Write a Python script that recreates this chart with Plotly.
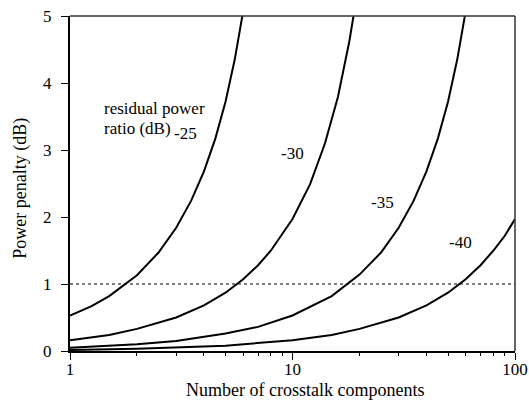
import math
import plotly.graph_objects as go

# Number of crosstalk components (x) and power penalty in dB (y)
n_m25 = [1, 1.25, 1.5, 1.75, 2, 2.5, 3, 3.5, 4, 4.5, 5, 5.5, 5.95]
pp_m25 = [0.53, 0.67, 0.82, 0.98, 1.13, 1.47, 1.84, 2.24, 2.68, 3.17, 3.72, 4.35, 5.0]

n_m30 = [1, 1.5, 2, 3, 4, 5, 6, 7, 8, 10, 12, 14, 16, 17, 18, 18.8]
pp_m30 = [0.16, 0.24, 0.33, 0.50, 0.68, 0.87, 1.07, 1.28, 1.50, 1.97, 2.49, 3.10, 3.79, 4.19, 4.62, 5.0]

n_m35 = [1, 2, 3, 5, 7, 10, 15, 20, 25, 30, 35, 40, 45, 50, 55, 59.5]
pp_m35 = [0.05, 0.10, 0.15, 0.26, 0.36, 0.53, 0.82, 1.14, 1.47, 1.84, 2.24, 2.68, 3.17, 3.72, 4.35, 5.0]

n_m40 = [1, 2, 5, 10, 15, 20, 30, 40, 50, 60, 70, 80, 90, 100]
pp_m40 = [0.016, 0.032, 0.08, 0.16, 0.24, 0.33, 0.50, 0.68, 0.87, 1.07, 1.28, 1.50, 1.72, 1.97]

threshold_x = [1, 100]
threshold_y = [1, 1]

curve_labels = ["-25", "-30", "-35", "-40"]
label_x = [3.29, 9.95, 25.5, 56.6]
label_y = [3.25, 2.95, 2.22, 1.62]

legend_lines = ["residual power", "ratio (dB)"]
legend_x = 1.39
legend_y = [3.62, 3.32]

x_title = "Number of crosstalk components"
y_title = "Power penalty (dB)"

x_tickvals = [1, 10, 100]
x_ticktext = ["1", "10", "100"]
x_minor = [2, 3, 4, 5, 6, 7, 8, 9, 20, 30, 40, 50, 60, 70, 80, 90]
y_tickvals = [0, 1, 2, 3, 4, 5]

FONT = "Liberation Serif"

fig = go.Figure()
for xs, ys in [(n_m25, pp_m25), (n_m30, pp_m30), (n_m35, pp_m35), (n_m40, pp_m40)]:
    fig.add_trace(go.Scatter(x=xs, y=ys, mode="lines",
                             line=dict(color="black", width=2), showlegend=False))

fig.add_trace(go.Scatter(x=threshold_x, y=threshold_y, mode="lines",
                         line=dict(color="black", width=1, dash="dot"), showlegend=False))

for t, lx, ly in zip(curve_labels, label_x, label_y):
    fig.add_annotation(x=math.log10(lx), y=ly, xref="x", yref="y", text=t, showarrow=False,
                       font=dict(family=FONT, size=17, color="black"))

for t, ly in zip(legend_lines, legend_y):
    fig.add_annotation(x=math.log10(legend_x), y=ly, xref="x", yref="y", xanchor="left",
                       yanchor="middle", text=t, showarrow=False,
                       font=dict(family=FONT, size=17, color="black"))

# axis titles
fig.add_annotation(x=0.528, y=-0.117, xref="paper", yref="paper", text=x_title,
                   showarrow=False, xanchor="center", yanchor="middle",
                   font=dict(family=FONT, size=18, color="black"))
fig.add_annotation(x=-0.112, y=0.485, xref="paper", yref="paper", text=y_title,
                   showarrow=False, xanchor="center", yanchor="middle", textangle=-90,
                   font=dict(family=FONT, size=18, color="black"))

fig.update_layout(
    width=529, height=407,
    margin=dict(l=70, r=14, t=16, b=56),
    plot_bgcolor="white", paper_bgcolor="white",
    font=dict(family=FONT, size=17, color="black"),
    xaxis=dict(type="log", range=[0, 2], tickvals=x_tickvals, ticktext=x_ticktext,
               ticks="outside", ticklen=7, tickwidth=1, tickcolor="black",
               showline=True, linewidth=2, linecolor="black", showgrid=False, zeroline=False,
               minor=dict(tickvals=x_minor, ticks="outside", ticklen=3, tickcolor="black", showgrid=False),
               tickfont=dict(family=FONT, size=17), ticklabeloverflow="allow", automargin=False,
               ticklabelstandoff=-5),
    yaxis=dict(range=[0, 5], tickvals=y_tickvals,
               ticks="outside", ticklen=7, tickwidth=1, tickcolor="black",
               showline=True, linewidth=2, linecolor="black", showgrid=False, zeroline=False,
               tickfont=dict(family=FONT, size=17), ticklabelstandoff=6, ticklabeloverflow="allow",
               automargin=False),
    shapes=[
        dict(type="line", xref="paper", yref="paper", x0=0, x1=1, y0=1, y1=1,
             line=dict(color="#333333", width=1.5)),
        dict(type="line", xref="paper", yref="paper", x0=1, x1=1, y0=0, y1=1,
             line=dict(color="#333333", width=1.5)),
    ],
)

fig.write_html("out.html", config={"displayModeBar": False},
               post_script="document.body.style.margin='0';document.body.style.overflow='hidden';")
